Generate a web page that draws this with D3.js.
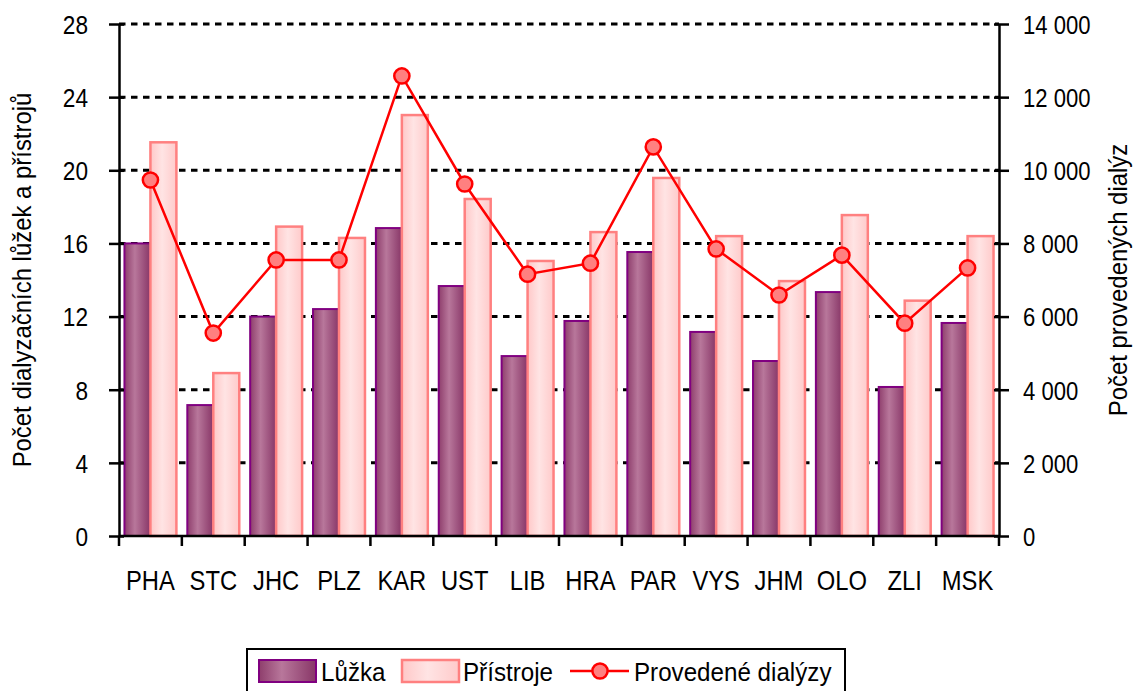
<!DOCTYPE html>
<html>
<head>
<meta charset="utf-8">
<script src="https://cdn.jsdelivr.net/npm/d3@7"></script>
<style>
  body { margin: 0; background: #fff; }
  svg { display: block; }
  text { font-family: "Liberation Sans", Arial, sans-serif; fill: #000; }
</style>
</head>
<body>
<svg id="chart" width="1133" height="691"></svg>
<script>
// Regions (kraje) on the category axis
const regions = ["PHA", "STC", "JHC", "PLZ", "KAR", "UST", "LIB", "HRA", "PAR", "VYS", "JHM", "OLO", "ZLI", "MSK"];
// Dialysis beds per region (left axis)
const beds = [16, 7.16, 12, 12.41, 16.84, 13.67, 9.84, 11.76, 15.53, 11.16, 9.57, 13.34, 8.15, 11.65];
// Dialysis machines per region (left axis)
const machines = [21.53, 8.91, 16.92, 16.3, 23.02, 18.43, 15.04, 16.62, 19.58, 16.4, 13.94, 17.55, 12.87, 16.4];
// Dialyses performed per region (right axis)
const dialyses = [9735, 5550, 7550, 7550, 12580, 9625, 7160, 7460, 10640, 7850, 6590, 7680, 5820, 7330];
// Axis ticks
const leftTicks = [0, 4, 8, 12, 16, 20, 24, 28];
const rightTicks = [0, 2000, 4000, 6000, 8000, 10000, 12000, 14000];
// Series names and axis titles
const seriesNames = ["Lůžka", "Přístroje", "Provedené dialýzy"];
const leftTitle = "Počet dialyzačních lůžek a přístrojů";
const rightTitle = "Počet provedených dialýz";

const SX = 0.87;            // horizontal text compression
const plot = { left: 119, right: 999, top: 24, bottom: 536 };

const svg = d3.select("#chart");
const defs = svg.append("defs");

function hGradient(id, stops) {
  const g = defs.append("linearGradient").attr("id", id)
    .attr("x1", "0%").attr("x2", "100%").attr("y1", "0%").attr("y2", "0%");
  stops.forEach(([o, c]) => g.append("stop").attr("offset", o).attr("stop-color", c));
}
hGradient("gradBeds", [["0%", "#8E3E6C"], ["40%", "#B8779B"], ["100%", "#883667"]]);
hGradient("gradMachines", [["0%", "#FFC8C8"], ["45%", "#FFE4E4"], ["100%", "#FFCACA"]]);

const x = d3.scaleBand().domain(regions).range([plot.left, plot.right]).padding(0);
const xs = d3.scaleBand().domain(["beds", "machines"]).range([0, x.bandwidth()])
  .paddingInner(0).paddingOuter(0.21);
const yL = d3.scaleLinear().domain([0, 28]).range([plot.bottom, plot.top]);
const yR = d3.scaleLinear().domain([0, 14000]).range([plot.bottom, plot.top]);

const czFormat = d3.formatLocale({ decimal: ",", thousands: " ", grouping: [3], currency: ["", ""] }).format(",");

// dashed horizontal gridlines
svg.append("g").selectAll("line")
  .data(leftTicks.filter(d => d > 0))
  .join("line")
  .attr("x1", plot.left).attr("x2", plot.right)
  .attr("y1", d => yL(d)).attr("y2", d => yL(d))
  .attr("stroke", "#000").attr("stroke-width", 3)
  .attr("stroke-dasharray", "6.5,5.5");

// bars
const groups = svg.append("g").selectAll("g")
  .data(regions.map((r, i) => ({ r, beds: beds[i], machines: machines[i] })))
  .join("g")
  .attr("transform", d => `translate(${x(d.r)},0)`);

groups.append("rect")
  .attr("x", xs("beds")).attr("width", xs.bandwidth())
  .attr("y", d => yL(d.beds)).attr("height", d => yL(0) - yL(d.beds))
  .attr("fill", "url(#gradBeds)").attr("stroke", "#800080").attr("stroke-width", 2);

groups.append("rect")
  .attr("x", xs("machines")).attr("width", xs.bandwidth())
  .attr("y", d => yL(d.machines)).attr("height", d => yL(0) - yL(d.machines))
  .attr("fill", "url(#gradMachines)").attr("stroke", "#FF8080").attr("stroke-width", 2.5);

// compress text horizontally around its own anchor
function squeeze(sel, sx) {
  sel.each(function () {
    const t = d3.select(this);
    const xv = +t.attr("x") || 0;
    t.attr("x", xv / sx).attr("transform", `scale(${sx},1)`);
  });
}

// left axis
const axL = svg.append("g").attr("transform", `translate(${plot.left},0)`)
  .call(d3.axisLeft(yL).tickValues(leftTicks).tickSize(10).tickSizeOuter(0).tickPadding(21));
axL.select(".domain").attr("stroke", "#000").attr("stroke-width", 2.5);
axL.selectAll(".tick line").attr("x1", 5).attr("stroke", "#000").attr("stroke-width", 2.5);
axL.selectAll(".tick text").attr("font-size", 26).attr("font-family", "Liberation Sans, Arial, sans-serif")
  .attr("dy", "0.36em");
squeeze(axL.selectAll(".tick text"), SX);

// right axis
const axR = svg.append("g").attr("transform", `translate(${plot.right},0)`)
  .call(d3.axisRight(yR).tickValues(rightTicks).tickSize(10).tickSizeOuter(0).tickPadding(14).tickFormat(czFormat));
axR.select(".domain").attr("stroke", "#000").attr("stroke-width", 2.5);
axR.selectAll(".tick line").attr("x1", -5).attr("stroke", "#000").attr("stroke-width", 2.5);
axR.selectAll(".tick text").attr("font-size", 26).attr("font-family", "Liberation Sans, Arial, sans-serif")
  .attr("dy", "0.36em");
squeeze(axR.selectAll(".tick text"), 0.85);

// bottom axis: labels centred in each band, ticks on band boundaries
const axB = svg.append("g").attr("transform", `translate(0,${plot.bottom})`)
  .call(d3.axisBottom(x).tickSize(0).tickSizeOuter(0));
axB.select(".domain").remove();
axB.selectAll(".tick text").attr("font-size", 27).attr("font-family", "Liberation Sans, Arial, sans-serif")
  .attr("y", 54).attr("dy", 0);
squeeze(axB.selectAll(".tick text"), 0.88);
axB.append("line").attr("x1", plot.left).attr("x2", plot.right)
  .attr("stroke", "#000").attr("stroke-width", 2.5);
axB.selectAll(".bound")
  .data(regions.map(r => x(r)).concat([plot.right]))
  .join("line").attr("class", "bound")
  .attr("x1", d => d).attr("x2", d => d).attr("y1", 0).attr("y2", 10)
  .attr("stroke", "#000").attr("stroke-width", 2.5);

// line series on the right axis
const cx = r => x(r) + x.bandwidth() / 2;
const pts = regions.map((r, i) => [cx(r), yR(dialyses[i])]);
svg.append("path")
  .attr("d", d3.line()(pts))
  .attr("fill", "none").attr("stroke", "#FF0000").attr("stroke-width", 2.5);
svg.append("g").selectAll("circle")
  .data(pts).join("circle")
  .attr("cx", d => d[0]).attr("cy", d => d[1]).attr("r", 7.6)
  .attr("fill", "#FF8080").attr("stroke", "#FF0000").attr("stroke-width", 2.5);

// axis titles
svg.append("text")
  .attr("transform", `translate(31,${(plot.top + plot.bottom) / 2}) rotate(-90) scale(0.92,1)`)
  .attr("text-anchor", "middle").attr("font-size", 26).text(leftTitle);
svg.append("text")
  .attr("transform", `translate(1127,${(plot.top + plot.bottom) / 2}) rotate(-90) scale(0.92,1)`)
  .attr("text-anchor", "middle").attr("font-size", 26).text(rightTitle);

// legend
const lg = svg.append("g");
lg.append("rect").attr("x", 247).attr("y", 649).attr("width", 598).attr("height", 60)
  .attr("fill", "#fff").attr("stroke", "#000").attr("stroke-width", 2);
const lgY = 671;
lg.append("rect").attr("x", 259).attr("y", lgY - 11).attr("width", 57).attr("height", 22)
  .attr("fill", "url(#gradBeds)").attr("stroke", "#800080").attr("stroke-width", 2);
lg.append("rect").attr("x", 402).attr("y", lgY - 11).attr("width", 57).attr("height", 22)
  .attr("fill", "url(#gradMachines)").attr("stroke", "#FF8080").attr("stroke-width", 2.5);
lg.append("line").attr("x1", 570).attr("x2", 629).attr("y1", lgY).attr("y2", lgY)
  .attr("stroke", "#FF0000").attr("stroke-width", 2.5);
lg.append("circle").attr("cx", 600).attr("cy", lgY).attr("r", 7.6)
  .attr("fill", "#FF8080").attr("stroke", "#FF0000").attr("stroke-width", 2.5);
const lgText = lg.selectAll(".lt")
  .data([[321, seriesNames[0]], [463, seriesNames[1]], [634, seriesNames[2]]])
  .join("text").attr("class", "lt")
  .attr("x", d => d[0]).attr("y", lgY + 10).attr("font-size", 26).text(d => d[1]);
squeeze(lgText, 0.93);
</script>
</body>
</html>
